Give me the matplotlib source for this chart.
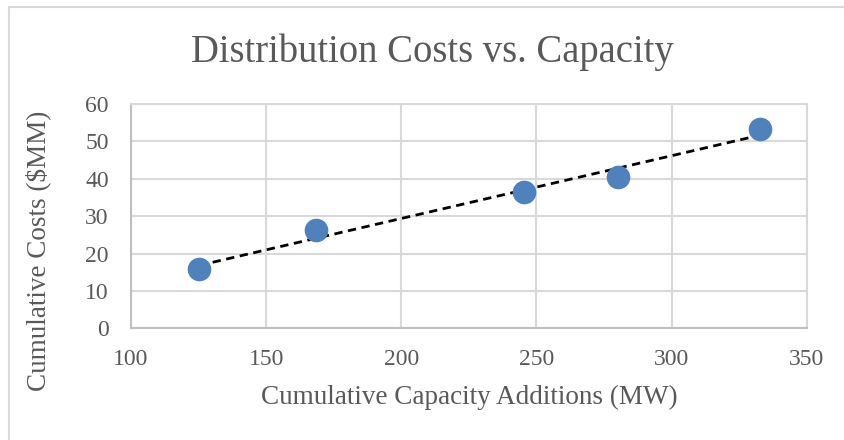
import matplotlib.pyplot as plt
import numpy as np
from matplotlib.patches import Rectangle

# Cumulative capacity additions (MW) and cumulative costs ($MM)
capacity = [125.2, 168.5, 245.4, 280.2, 332.7]
costs = [15.9, 26.3, 36.5, 40.4, 53.3]

X_TICKS = [100, 150, 200, 250, 300, 350]
Y_TICKS = [0, 10, 20, 30, 40, 50, 60]

TEXT_COLOR = '#595959'
POINT_COLOR = '#4F81BD'
GRID_COLOR = '#D9D9D9'


def visual():
    plt.rcParams['font.family'] = ['Liberation Serif', 'DejaVu Serif']

    fig = plt.figure(figsize=(8.44, 4.40), dpi=100)
    ax = fig.add_axes([131 / 844, 1 - 328.3 / 440, (806.7 - 131) / 844, (328.3 - 104) / 440])

    # chart area frame (right and bottom edges are cut off in the original)
    fig.patches.append(Rectangle((9 / 844, -0.1), 1.2, 1.1 - 7 / 440,
                                 transform=fig.transFigure, fill=False,
                                 edgecolor='#D9D9D9', linewidth=1.5))

    # linear trendline
    k, b = np.polyfit(capacity, costs, 1)
    xs = np.array([min(capacity), max(capacity)])
    ax.plot(xs, k * xs + b, color='black', linestyle=(0, (3, 2)), linewidth=2, zorder=2)

    ax.scatter(capacity, costs, s=290, color=POINT_COLOR, zorder=3, linewidths=0)

    ax.set_xlim(100, 350)
    ax.set_ylim(0, 60)
    ax.set_xticks(X_TICKS)
    ax.set_yticks(Y_TICKS)
    ax.grid(True, color=GRID_COLOR, linewidth=1.5)
    ax.set_axisbelow(True)
    for side in ax.spines.values():
        side.set_color(GRID_COLOR)
        side.set_linewidth(1.5)
    ax.spines['left'].set_color('#BFBFBF')
    ax.spines['bottom'].set_color('#BFBFBF')

    ax.tick_params(length=0, labelsize=17, labelcolor=TEXT_COLOR)
    ax.tick_params(axis='x', pad=15)
    ax.tick_params(axis='y', pad=16)

    fig.text(432 / 844, 1 - 52 / 440, 'Distribution Costs vs. Capacity', ha='center', va='center',
             fontsize=27.8, color=TEXT_COLOR)
    fig.text((131 + 806.7) / 2 / 844, 1 - 397 / 440, 'Cumulative Capacity Additions (MW)',
             ha='center', va='center', fontsize=19.5, color=TEXT_COLOR)
    fig.text(38 / 844, 1 - 251 / 440, 'Cumulative Costs ($MM)', ha='center', va='center',
             rotation=90, fontsize=19.5, color=TEXT_COLOR)

    fig.savefig('out.png', dpi=100)


if __name__ == '__main__':
    visual()
